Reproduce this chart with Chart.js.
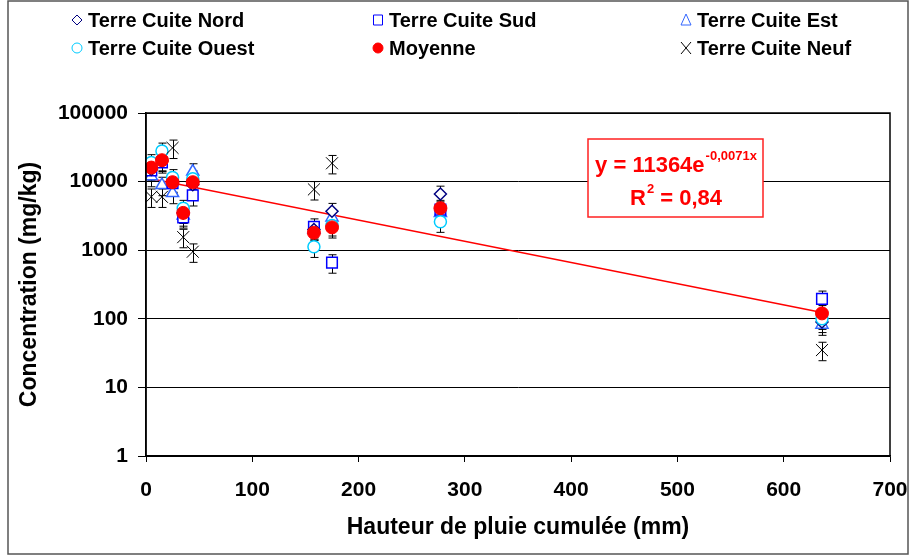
<!DOCTYPE html>
<html>
<head>
<meta charset="utf-8">
<script src="https://cdn.jsdelivr.net/npm/chart.js@4.4.1/dist/chart.umd.min.js"></script>
<style>
  html, body { margin: 0; padding: 0; background: #fff; }
</style>
</head>
<body>
<canvas id="chart" width="910" height="555"></canvas>
<script>
// cumulative rainfall (mm) for each sampling
const rainfall = [5, 15, 25, 35, 44, 158, 175, 277, 636];

// concentrations (mg/kg)
const nord   = [15000, 20000, 10000, 3500, 9000, 2000, 3700, 6600, 90];
const sud    = [14500, 19000, 9500, 3000, 6300, 2200, 660, 3900, 195];
const est    = [12000, 8900, 6800, 3200, 14000, 2000, 3000, 3500, 82];
const ouest  = [19000, 28000, 11500, 4100, 11000, 1120, 2300, 2600, 100];
const moyenne = [16000, 20500, 9800, 3500, 9800, 1800, 2150, 4100, 120];
const neuf   = [6000, 6000, 31000, 1550, 950, 7700, 18500, null, 35];

// relative error bar size of each series
const errNord = 0.3, errSud = 0.3, errEst = 0.3, errOuest = 0.3, errMoy = 0.3, errNeuf = 0.3;

// exponential trend line end points (y = 11364e^-0,0071x)
const trendX = [0, 636];
const trendY = [11364, 124];

const yTicks = [1, 10, 100, 1000, 10000, 100000];
const seriesNames = ['Terre Cuite Nord', 'Terre Cuite Sud', 'Terre Cuite Est',
                     'Terre Cuite Ouest', 'Moyenne', 'Terre Cuite Neuf'];

const FONT = '"Liberation Sans", Arial, sans-serif';

function pts(arr) {
    return rainfall.map((x, i) => ({ x: x, y: arr[i] }));
}

function drawSymbol(ctx, style, cx, cy, stroke, fill) {
    ctx.save();
    ctx.strokeStyle = stroke;
    ctx.fillStyle = fill;
    ctx.lineWidth = 1;
    ctx.beginPath();
    if (style === 'rectRot') {
        ctx.moveTo(cx, cy - 5); ctx.lineTo(cx + 5, cy); ctx.lineTo(cx, cy + 5); ctx.lineTo(cx - 5, cy); ctx.closePath();
        ctx.fill(); ctx.stroke();
    } else if (style === 'rect') {
        ctx.rect(cx - 4.5, cy - 5, 9, 10); ctx.fill(); ctx.stroke();
    } else if (style === 'triangle') {
        ctx.moveTo(cx, cy - 6); ctx.lineTo(cx + 5, cy + 5); ctx.lineTo(cx - 5, cy + 5); ctx.closePath();
        ctx.fill(); ctx.stroke();
    } else if (style === 'circle') {
        ctx.arc(cx, cy, 5, 0, Math.PI * 2); ctx.fill(); ctx.stroke();
    } else if (style === 'crossRot') {
        ctx.moveTo(cx - 5, cy - 6); ctx.lineTo(cx + 5, cy + 6);
        ctx.moveTo(cx + 5, cy - 6); ctx.lineTo(cx - 5, cy + 6);
        ctx.stroke();
    }
    ctx.restore();
}

// background + outer frame
const frame = {
    id: 'frame',
    beforeDraw(chart) {
        const ctx = chart.ctx;
        ctx.save();
        ctx.fillStyle = '#fff';
        ctx.fillRect(0, 0, chart.width, chart.height);
        ctx.strokeStyle = '#555';
        ctx.lineWidth = 1.5;
        ctx.strokeRect(8, 1, 900, 553);
        ctx.restore();
    },
    afterDraw(chart) {
        const a = chart.chartArea, ctx = chart.ctx;
        ctx.save();
        ctx.strokeStyle = '#000';
        ctx.lineWidth = 1.5;
        ctx.strokeRect(a.left, a.top, a.right - a.left, a.bottom - a.top);
        ctx.restore();
    }
};

// vertical error bars under markers
const errorBars = {
    id: 'errorBars',
    beforeDatasetsDraw(chart) {
        const ctx = chart.ctx, xs = chart.scales.x, ys = chart.scales.y;
        ctx.save();
        ctx.strokeStyle = '#000';
        ctx.lineWidth = 1;
        chart.data.datasets.forEach(ds => {
            if (!ds.errPct) return;
            ds.data.forEach(p => {
                if (p.y == null) return;
                const px = Math.round(xs.getPixelForValue(p.x)) + 0.5;
                const top = ys.getPixelForValue(p.y * (1 + ds.errPct));
                const bot = ys.getPixelForValue(p.y * (1 - ds.errPct));
                ctx.beginPath();
                ctx.moveTo(px, top); ctx.lineTo(px, bot);
                ctx.moveTo(px - 4, top); ctx.lineTo(px + 4, top);
                ctx.moveTo(px - 4, bot); ctx.lineTo(px + 4, bot);
                ctx.stroke();
            });
        });
        ctx.restore();
    }
};

// legend laid out on a 3 x 2 grid
const legendGrid = {
    id: 'legendGrid',
    afterDraw(chart) {
        const ctx = chart.ctx;
        const cols = [77, 378, 686], rows = [20, 48];
        seriesNames.forEach((name, i) => {
            const ds = chart.data.datasets[i];
            const cx = cols[i % 3], cy = rows[Math.floor(i / 3)];
            drawSymbol(ctx, ds.pointStyle, cx, cy, ds.pointBorderColor, ds.pointBackgroundColor);
            ctx.save();
            ctx.fillStyle = '#000';
            ctx.font = 'bold 20px ' + FONT;
            ctx.textBaseline = 'middle';
            ctx.textAlign = 'left';
            ctx.fillText(name, cx + 11, cy + 1);
            ctx.restore();
        });
    }
};

// trend equation label
const equation = {
    id: 'equation',
    afterDraw(chart) {
        const ctx = chart.ctx;
        const bx = 588, by = 139, bw = 175, bh = 78, mid = bx + bw / 2;
        ctx.save();
        ctx.fillStyle = '#fff';
        ctx.fillRect(bx, by, bw, bh);
        ctx.strokeStyle = '#ff2020';
        ctx.lineWidth = 1.5;
        ctx.strokeRect(bx, by, bw, bh);
        ctx.fillStyle = '#ff0000';
        ctx.textBaseline = 'alphabetic';
        ctx.textAlign = 'left';
        const big = 'bold 22px ' + FONT, small = 'bold 13px ' + FONT;
        // line 1
        let a = 'y = 11364e', b = '-0,0071x';
        ctx.font = big; const wa = ctx.measureText(a).width;
        ctx.font = small; const wb = ctx.measureText(b).width;
        let x0 = mid - (wa + wb) / 2;
        ctx.font = big; ctx.fillText(a, x0, 172);
        ctx.font = small; ctx.fillText(b, x0 + wa + 1, 160);
        // line 2
        const r = 'R', s = '2', t = ' = 0,84';
        ctx.font = big; const wr = ctx.measureText(r).width, wt = ctx.measureText(t).width;
        ctx.font = small; const ws = ctx.measureText(s).width;
        x0 = mid - (wr + ws + wt) / 2;
        ctx.font = big; ctx.fillText(r, x0, 205);
        ctx.font = small; ctx.fillText(s, x0 + wr + 1, 193);
        ctx.font = big; ctx.fillText(t, x0 + wr + ws + 1, 205);
        ctx.restore();
    }
};

const tickFont = { family: FONT, size: 21, weight: 'bold' };
const titleFont = { family: FONT, size: 23, weight: 'bold' };

new Chart(document.getElementById('chart'), {
    type: 'scatter',
    data: {
        datasets: [
            { label: seriesNames[0], data: pts(nord), pointStyle: 'rectRot', pointRadius: 6, pointBorderColor: '#000080', pointBackgroundColor: '#fff', pointBorderWidth: 1.5, errPct: errNord, order: 3 },
            { label: seriesNames[1], data: pts(sud), pointStyle: 'rect', pointRadius: 7.5, pointBorderColor: '#0000ff', pointBackgroundColor: '#fff', pointBorderWidth: 1.5, errPct: errSud, order: 4 },
            { label: seriesNames[2], data: pts(est), pointStyle: 'triangle', pointRadius: 7, pointBorderColor: '#3366ff', pointBackgroundColor: '#fff', pointBorderWidth: 1.5, errPct: errEst, order: 5 },
            { label: seriesNames[3], data: pts(ouest), pointStyle: 'circle', pointRadius: 6, pointBorderColor: '#00ccff', pointBackgroundColor: '#fff', pointBorderWidth: 1.5, errPct: errOuest, order: 2 },
            { label: seriesNames[4], data: pts(moyenne), pointStyle: 'circle', pointRadius: 6.5, pointBorderColor: '#ff0000', pointBackgroundColor: '#ff0000', pointBorderWidth: 1, errPct: errMoy, order: 0 },
            { label: seriesNames[5], data: pts(neuf), pointStyle: 'crossRot', pointRadius: 8.5, pointBorderColor: '#000', pointBackgroundColor: '#000', pointBorderWidth: 1, errPct: errNeuf, order: 1 },
            { label: 'trend', data: trendX.map((x, i) => ({ x: x, y: trendY[i] })), showLine: true, pointRadius: 0, borderColor: '#ff0000', borderWidth: 1.5, order: 10 }
        ]
    },
    options: {
        responsive: false,
        animation: false,
        devicePixelRatio: 1,
        layout: { padding: { top: 113, left: 0, right: 20, bottom: 10 } },
        plugins: {
            legend: { display: false },
            tooltip: { enabled: false }
        },
        scales: {
            x: {
                type: 'linear',
                min: 0,
                max: 700,
                afterFit: s => { s.height = 89; s.paddingRight = 0; s.paddingLeft = 0; },
                ticks: { stepSize: 100, font: tickFont, color: '#000', padding: 16, maxRotation: 0 },
                grid: { drawOnChartArea: false, color: '#000', tickLength: 6 },
                border: { color: '#000', width: 1.5 },
                title: { display: true, text: 'Hauteur de pluie cumulée (mm)', font: titleFont, color: '#000', padding: { top: 0, bottom: 4 } }
            },
            y: {
                type: 'logarithmic',
                min: 1,
                max: 100000,
                afterBuildTicks: s => { s.ticks = yTicks.map(v => ({ value: v })); },
                afterFit: s => { s.width = 146; s.paddingTop = 0; s.paddingBottom = 0; },
                ticks: { font: tickFont, color: '#000', padding: 10, autoSkip: false, callback: v => String(v) },
                grid: { color: '#000', lineWidth: 1, tickLength: 8 },
                border: { color: '#000', width: 1.5 },
                title: { display: true, text: 'Concentration (mg/kg)', font: titleFont, color: '#000', padding: { top: 16, bottom: 0 } }
            }
        }
    },
    plugins: [frame, errorBars, legendGrid, equation]
});
</script>
</body>
</html>
